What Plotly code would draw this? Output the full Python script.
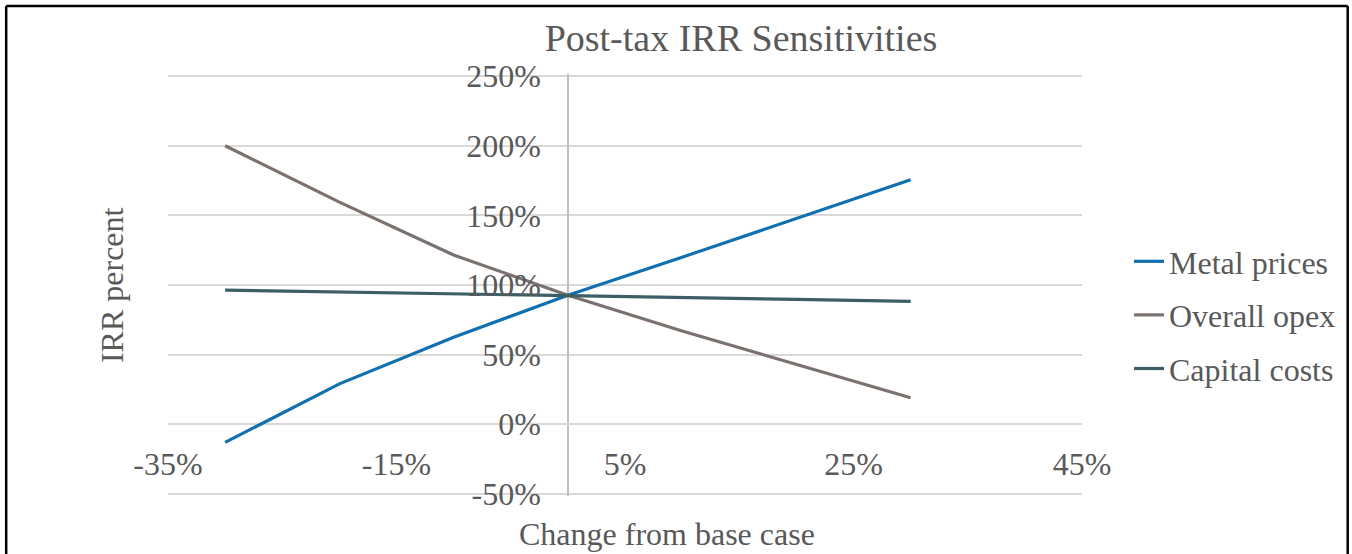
import plotly.graph_objects as go

# Sensitivity cases: change from base case (%)
change_pct = [-30, -20, -10, 0, 10, 20, 30]

# Post-tax IRR (%) for each sensitivity
metal_prices = [-13.0, 29.0, 62.5, 92.7, 120.0, 148.0, 175.5]
overall_opex = [200.0, 159.5, 121.5, 92.7, 67.0, 43.0, 19.0]
capital_costs = [96.3, 95.0, 93.8, 92.7, 91.2, 89.7, 88.2]

series_names = ["Metal prices", "Overall opex", "Capital costs"]
series_colors = ["#1170B0", "#7B726F", "#3C5F66"]

x_ticks = [-35, -15, 5, 25, 45]
y_ticks = [-50, 0, 50, 100, 150, 200, 250]

FONT = "Liberation Serif"
TEXT = "#595959"

W, H = 1352, 554
ML, MR, MT, MB = 168, 269, 74, 58
PW, PH = W - ML - MR, H - MT - MB

x_range = [-35, 45]
y_range = [-51.5, 251.5]


def px_to_paper_x(px):
    return (px - ML) / PW


def px_to_paper_y(py):
    return (H - MB - py) / PH


fig = go.Figure()
for name, vals, col in zip(series_names, [metal_prices, overall_opex, capital_costs], series_colors):
    fig.add_trace(go.Scatter(
        x=change_pct, y=vals, name=name, mode="lines",
        line=dict(color=col, width=3.2),
        legendgroup=name,
    ))

fig.update_layout(
    width=W, height=H,
    margin=dict(l=ML, r=MR, t=MT, b=MB),
    paper_bgcolor="white", plot_bgcolor="white",
    font=dict(family=FONT, color=TEXT, size=32),
    title=dict(
        text="Post-tax IRR Sensitivities",
        font=dict(family=FONT, size=38, color=TEXT),
        x=741 / W, xanchor="center", xref="container",
        y=1 - 38 / H, yanchor="middle", yref="container",
    ),
    xaxis=dict(
        range=x_range, tickvals=x_ticks,
        ticktext=[f"{v}%" for v in x_ticks],
        showgrid=False, showline=False,
        zeroline=True, zerolinecolor="#BFBFBF", zerolinewidth=1.5,
        anchor="free", position=(0 - y_range[0]) / (y_range[1] - y_range[0]),
        ticks="", ticklabelstandoff=18,
        tickfont=dict(size=32, color=TEXT, family=FONT),
    ),
    yaxis=dict(
        range=y_range, tickvals=y_ticks,
        ticktext=[f"{v}%" for v in y_ticks],
        showgrid=True, gridcolor="#D9D9D9", gridwidth=1.5,
        zeroline=True, zerolinecolor="#D9D9D9", zerolinewidth=1.5,
        showline=False,
        anchor="free", position=(0 - x_range[0]) / (x_range[1] - x_range[0]),
        ticks="", ticklabelstandoff=27,
        tickfont=dict(size=32, color=TEXT, family=FONT),
    ),
    legend=dict(
        x=px_to_paper_x(1129), xanchor="left",
        y=px_to_paper_y(234), yanchor="top",
        font=dict(size=32, color=TEXT, family=FONT),
        tracegroupgap=9, bgcolor="rgba(0,0,0,0)",
    ),
    showlegend=True,
)

# Axis titles
fig.add_annotation(
    text="IRR percent", xref="paper", yref="paper",
    x=px_to_paper_x(112), y=px_to_paper_y(285),
    xanchor="center", yanchor="middle", textangle=-90, showarrow=False,
    font=dict(size=32, color=TEXT, family=FONT),
)
fig.add_annotation(
    text="Change from base case", xref="paper", yref="paper",
    x=px_to_paper_x(668), y=px_to_paper_y(534),
    xanchor="center", yanchor="middle", showarrow=False,
    font=dict(size=32, color=TEXT, family=FONT),
)

# Chart frame (left, top, right edges)
frame = dict(type="line", xref="paper", yref="paper", line=dict(color="black", width=2.5))
fig.add_shape(**frame, x0=px_to_paper_x(6), x1=px_to_paper_x(6), y0=px_to_paper_y(6), y1=px_to_paper_y(560))
fig.add_shape(**frame, x0=px_to_paper_x(6), x1=px_to_paper_x(1349), y0=px_to_paper_y(6), y1=px_to_paper_y(6))
fig.add_shape(**frame, x0=px_to_paper_x(1349), x1=px_to_paper_x(1349), y0=px_to_paper_y(6), y1=px_to_paper_y(560))

fig.write_html("out.html")
